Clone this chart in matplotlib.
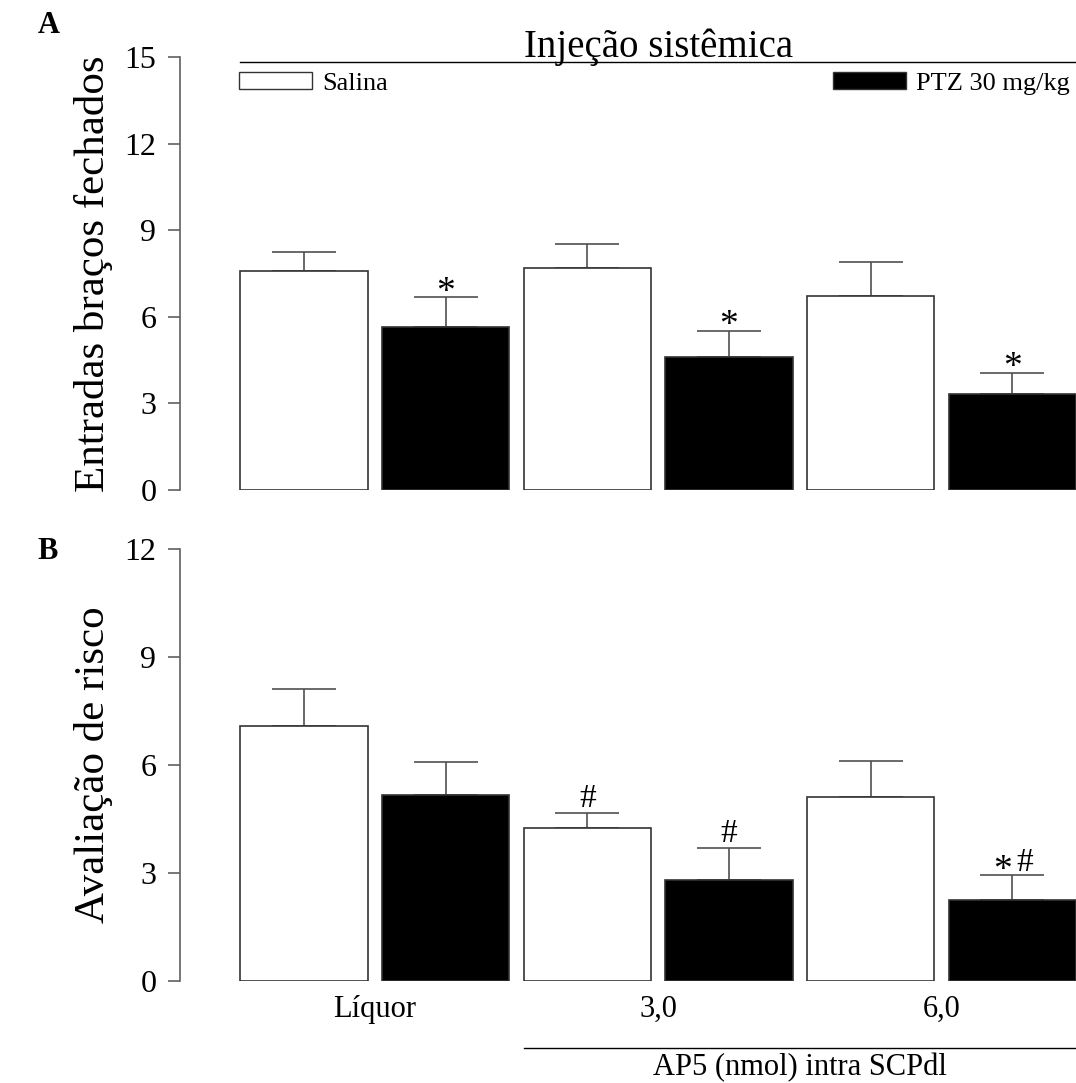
import matplotlib.pyplot as plt
from matplotlib.patches import Patch
import numpy as np

plt.rcParams['font.family'] = ['Liberation Serif', 'DejaVu Serif']

groups = ['Líquor', '3,0', '6,0']
treatments = ['Salina', 'PTZ 30 mg/kg']

# panel A: entradas nos braços fechados (media + EPM)
entradas_mean = [7.57, 5.66, 7.68, 4.62, 6.73, 3.34]
entradas_sem = [0.68, 1.01, 0.85, 0.89, 1.18, 0.71]
entradas_star = ['', '*', '', '*', '', '*']

# panel B: avaliacao de risco
risco_mean = [7.07, 5.17, 4.25, 2.80, 5.10, 2.25]
risco_sem = [1.05, 0.90, 0.42, 0.90, 1.00, 0.68]
risco_star = ['', '', '', '', '', '*']
risco_hash = ['', '', '#', '#', '', '#']

x = np.arange(len(entradas_mean))
bar_colors = ['white', 'black'] * len(groups)
edge = '#333333'
grey = '#606060'


def draw_panel(ax, means, sem, ymax, ylabel):
    ax.bar(x, means, width=0.9, color=bar_colors, edgecolor=edge,
           linewidth=1.2, zorder=2)
    ax.errorbar(x, means, yerr=[np.zeros(len(means)), sem], fmt='none',
                ecolor='#505050', elinewidth=1.2, capsize=23, capthick=1.2,
                zorder=1)
    ax.set_xlim(-0.876, 5.45)
    ax.set_ylim(0, ymax)
    ax.set_yticks(np.arange(0, ymax + 1, 3))
    for s in ['top', 'right', 'bottom']:
        ax.spines[s].set_visible(False)
    ax.spines['left'].set_color(grey)
    ax.spines['left'].set_linewidth(1.2)
    ax.tick_params(axis='y', direction='out', length=9, width=1.2,
                   color=grey, labelsize=23, pad=8)
    ax.set_ylabel(ylabel, fontsize=31)
    ax.yaxis.set_label_coords(-0.075, 0.5)


fig = plt.figure(figsize=(10.76, 10.83), dpi=100)
ax_a = fig.add_axes([0.1673, 0.5476, 0.8327, 0.3998])
ax_b = fig.add_axes([0.1673, 0.0942, 0.8327, 0.3989])

draw_panel(ax_a, entradas_mean, entradas_sem, 15, 'Entradas braços fechados')
draw_panel(ax_b, risco_mean, risco_sem, 12, 'Avaliação de risco')

ax_a.set_xticks([])
ax_b.set_xticks(x[::2] + 0.5)
ax_b.set_xticklabels(groups, fontsize=22)
ax_b.tick_params(axis='x', length=0, pad=10)

# significance marks
for xi, m, e, s in zip(x, entradas_mean, entradas_sem, entradas_star):
    if s:
        ax_a.annotate(s, (xi, m + e), xytext=(0, -3), textcoords='offset points',
                      ha='center', va='baseline', fontsize=27)
for xi, m, e, s, h in zip(x, risco_mean, risco_sem, risco_star, risco_hash):
    if s and h:
        ax_b.annotate(s, (xi, m + e), xytext=(-7, -3), textcoords='offset points',
                      ha='center', va='baseline', fontsize=27)
        ax_b.annotate(h, (xi, m + e), xytext=(9, 3), textcoords='offset points',
                      ha='center', va='baseline', fontsize=24)
    elif h:
        ax_b.annotate(h, (xi, m + e), xytext=(0, 4), textcoords='offset points',
                      ha='center', va='baseline', fontsize=24)

# header of panel A
tr_a = ax_a.get_xaxis_transform()
ax_a.plot([-0.45, 5.45], [0.988, 0.988], transform=tr_a, color='black',
          lw=1, clip_on=False)
ax_a.text(2.5, 1.0, 'Injeção sistêmica', transform=tr_a, ha='center',
          va='baseline', fontsize=28)

leg1 = ax_a.legend(handles=[Patch(facecolor='white', edgecolor=edge, label=treatments[0])],
                   loc='center left', bbox_to_anchor=(0.066, 0.938), frameon=False,
                   fontsize=19, handlelength=2.77, handleheight=0.6,
                   handletextpad=0.38, borderpad=0, borderaxespad=0)
ax_a.add_artist(leg1)
ax_a.legend(handles=[Patch(facecolor='black', edgecolor=edge, label=treatments[1])],
            loc='center right', bbox_to_anchor=(0.993, 0.938), frameon=False,
            fontsize=19, handlelength=2.77, handleheight=0.6,
            handletextpad=0.38, borderpad=0, borderaxespad=0)

# dose bracket under panel B
tr_b = ax_b.get_xaxis_transform()
ax_b.plot([1.55, 5.45], [-0.155, -0.155], transform=tr_b, color='black',
          lw=1, clip_on=False)
ax_b.text(3.5, -0.2, 'AP5 (nmol) intra SCPdl', transform=tr_b, ha='center',
          va='center', fontsize=22)

fig.text(0.035, 0.9695, 'A', fontsize=22, fontweight='bold')
fig.text(0.035, 0.4838, 'B', fontsize=22, fontweight='bold')

fig.savefig('out.png', dpi=100)
